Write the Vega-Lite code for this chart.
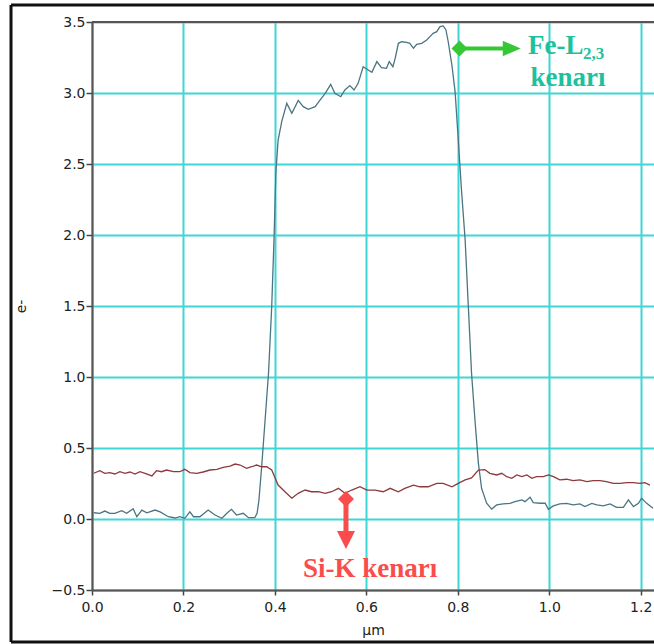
{
  "$schema": "https://vega.github.io/schema/vega-lite/v6.json",
  "width": 562,
  "height": 568,
  "autosize": "none",
  "padding": {"left": 92, "top": 22, "right": 0, "bottom": 54},
  "background": "white",
  "config": {
    "view": {"stroke": null},
    "axis": {
      "labelFont": "DejaVu Sans",
      "labelFontSize": 14,
      "labelColor": "#222222",
      "titleFont": "DejaVu Sans",
      "titleFontSize": 14,
      "titleFontWeight": "normal",
      "titleColor": "#222222",
      "gridColor": "#3fd6d6",
      "gridWidth": 2,
      "gridOpacity": 1,
      "domainColor": "#555555",
      "domainWidth": 2,
      "tickColor": "#444444",
      "tickWidth": 1.5,
      "labelFlush": false,
      "labelOverlap": false,
      "labelBound": false
    }
  },
  "datasets": {
    "one": [{}],
    "fe": [
      {"x": 0.004, "y": 0.044}, {"x": 0.017, "y": 0.040}, {"x": 0.028, "y": 0.056}, {"x": 0.039, "y": 0.040},
      {"x": 0.050, "y": 0.040}, {"x": 0.065, "y": 0.058}, {"x": 0.076, "y": 0.040}, {"x": 0.090, "y": 0.072},
      {"x": 0.098, "y": 0.016}, {"x": 0.109, "y": 0.063}, {"x": 0.120, "y": 0.044}, {"x": 0.138, "y": 0.063},
      {"x": 0.149, "y": 0.050}, {"x": 0.167, "y": 0.016}, {"x": 0.182, "y": 0.007}, {"x": 0.192, "y": 0.016},
      {"x": 0.203, "y": 0.005}, {"x": 0.214, "y": 0.050}, {"x": 0.222, "y": 0.016}, {"x": 0.236, "y": 0.016},
      {"x": 0.254, "y": 0.063}, {"x": 0.269, "y": 0.028}, {"x": 0.284, "y": 0.005}, {"x": 0.295, "y": 0.040},
      {"x": 0.305, "y": 0.068}, {"x": 0.316, "y": 0.028}, {"x": 0.331, "y": 0.040}, {"x": 0.342, "y": 0.009},
      {"x": 0.356, "y": 0.009}, {"x": 0.361, "y": 0.040}, {"x": 0.365, "y": 0.130}, {"x": 0.371, "y": 0.368},
      {"x": 0.378, "y": 0.674}, {"x": 0.386, "y": 1.026}, {"x": 0.393, "y": 1.495}, {"x": 0.398, "y": 1.965},
      {"x": 0.402, "y": 2.434}, {"x": 0.407, "y": 2.669}, {"x": 0.415, "y": 2.800}, {"x": 0.426, "y": 2.927},
      {"x": 0.437, "y": 2.857}, {"x": 0.451, "y": 2.948}, {"x": 0.462, "y": 2.904}, {"x": 0.473, "y": 2.885},
      {"x": 0.488, "y": 2.904}, {"x": 0.499, "y": 2.951}, {"x": 0.510, "y": 2.998}, {"x": 0.522, "y": 3.061},
      {"x": 0.531, "y": 2.998}, {"x": 0.544, "y": 2.974}, {"x": 0.553, "y": 3.021}, {"x": 0.564, "y": 3.052},
      {"x": 0.573, "y": 3.021}, {"x": 0.582, "y": 3.068}, {"x": 0.593, "y": 3.185}, {"x": 0.604, "y": 3.162},
      {"x": 0.612, "y": 3.146}, {"x": 0.623, "y": 3.221}, {"x": 0.633, "y": 3.178}, {"x": 0.644, "y": 3.174},
      {"x": 0.650, "y": 3.221}, {"x": 0.658, "y": 3.185}, {"x": 0.663, "y": 3.244}, {"x": 0.670, "y": 3.350},
      {"x": 0.677, "y": 3.361}, {"x": 0.688, "y": 3.357}, {"x": 0.695, "y": 3.350}, {"x": 0.703, "y": 3.315},
      {"x": 0.710, "y": 3.343}, {"x": 0.721, "y": 3.350}, {"x": 0.732, "y": 3.373}, {"x": 0.739, "y": 3.397},
      {"x": 0.746, "y": 3.420}, {"x": 0.754, "y": 3.432}, {"x": 0.761, "y": 3.467}, {"x": 0.768, "y": 3.472},
      {"x": 0.774, "y": 3.444}, {"x": 0.779, "y": 3.361}, {"x": 0.787, "y": 3.197}, {"x": 0.794, "y": 3.010},
      {"x": 0.801, "y": 2.669}, {"x": 0.808, "y": 2.317}, {"x": 0.816, "y": 1.965}, {"x": 0.823, "y": 1.495},
      {"x": 0.830, "y": 1.026}, {"x": 0.838, "y": 0.674}, {"x": 0.845, "y": 0.392}, {"x": 0.852, "y": 0.215},
      {"x": 0.863, "y": 0.111}, {"x": 0.874, "y": 0.070}, {"x": 0.885, "y": 0.099}, {"x": 0.899, "y": 0.106},
      {"x": 0.914, "y": 0.110}, {"x": 0.925, "y": 0.122}, {"x": 0.940, "y": 0.134}, {"x": 0.947, "y": 0.122},
      {"x": 0.958, "y": 0.153}, {"x": 0.965, "y": 0.115}, {"x": 0.980, "y": 0.111}, {"x": 0.991, "y": 0.111},
      {"x": 0.998, "y": 0.068}, {"x": 1.009, "y": 0.092}, {"x": 1.023, "y": 0.106}, {"x": 1.038, "y": 0.110},
      {"x": 1.052, "y": 0.099}, {"x": 1.067, "y": 0.106}, {"x": 1.078, "y": 0.087}, {"x": 1.093, "y": 0.110},
      {"x": 1.104, "y": 0.099}, {"x": 1.118, "y": 0.092}, {"x": 1.133, "y": 0.106}, {"x": 1.147, "y": 0.082},
      {"x": 1.162, "y": 0.082}, {"x": 1.173, "y": 0.134}, {"x": 1.184, "y": 0.087}, {"x": 1.195, "y": 0.110},
      {"x": 1.202, "y": 0.146}, {"x": 1.213, "y": 0.110}, {"x": 1.227, "y": 0.075}
    ],
    "si": [
      {"x": 0.004, "y": 0.322}, {"x": 0.017, "y": 0.340}, {"x": 0.028, "y": 0.322}, {"x": 0.039, "y": 0.327},
      {"x": 0.050, "y": 0.317}, {"x": 0.061, "y": 0.333}, {"x": 0.072, "y": 0.322}, {"x": 0.083, "y": 0.331},
      {"x": 0.094, "y": 0.317}, {"x": 0.105, "y": 0.333}, {"x": 0.116, "y": 0.322}, {"x": 0.131, "y": 0.303},
      {"x": 0.141, "y": 0.340}, {"x": 0.152, "y": 0.333}, {"x": 0.163, "y": 0.345}, {"x": 0.178, "y": 0.333},
      {"x": 0.192, "y": 0.333}, {"x": 0.203, "y": 0.350}, {"x": 0.214, "y": 0.327}, {"x": 0.229, "y": 0.322},
      {"x": 0.243, "y": 0.331}, {"x": 0.258, "y": 0.345}, {"x": 0.273, "y": 0.350}, {"x": 0.287, "y": 0.364},
      {"x": 0.302, "y": 0.373}, {"x": 0.313, "y": 0.387}, {"x": 0.324, "y": 0.380}, {"x": 0.338, "y": 0.357},
      {"x": 0.349, "y": 0.368}, {"x": 0.360, "y": 0.380}, {"x": 0.371, "y": 0.368}, {"x": 0.382, "y": 0.368},
      {"x": 0.393, "y": 0.345}, {"x": 0.407, "y": 0.239}, {"x": 0.422, "y": 0.192}, {"x": 0.437, "y": 0.146},
      {"x": 0.451, "y": 0.181}, {"x": 0.466, "y": 0.204}, {"x": 0.480, "y": 0.192}, {"x": 0.495, "y": 0.192},
      {"x": 0.510, "y": 0.181}, {"x": 0.524, "y": 0.192}, {"x": 0.539, "y": 0.216}, {"x": 0.553, "y": 0.181},
      {"x": 0.568, "y": 0.204}, {"x": 0.586, "y": 0.227}, {"x": 0.601, "y": 0.204}, {"x": 0.619, "y": 0.204},
      {"x": 0.637, "y": 0.192}, {"x": 0.652, "y": 0.216}, {"x": 0.670, "y": 0.192}, {"x": 0.684, "y": 0.216},
      {"x": 0.703, "y": 0.239}, {"x": 0.717, "y": 0.227}, {"x": 0.735, "y": 0.227}, {"x": 0.754, "y": 0.251},
      {"x": 0.768, "y": 0.251}, {"x": 0.787, "y": 0.227}, {"x": 0.801, "y": 0.251}, {"x": 0.816, "y": 0.275},
      {"x": 0.830, "y": 0.290}, {"x": 0.845, "y": 0.345}, {"x": 0.859, "y": 0.348}, {"x": 0.870, "y": 0.322},
      {"x": 0.885, "y": 0.310}, {"x": 0.896, "y": 0.322}, {"x": 0.907, "y": 0.298}, {"x": 0.918, "y": 0.287},
      {"x": 0.929, "y": 0.310}, {"x": 0.940, "y": 0.298}, {"x": 0.951, "y": 0.310}, {"x": 0.962, "y": 0.287},
      {"x": 0.972, "y": 0.298}, {"x": 0.987, "y": 0.298}, {"x": 0.998, "y": 0.310}, {"x": 1.009, "y": 0.298},
      {"x": 1.023, "y": 0.275}, {"x": 1.038, "y": 0.280}, {"x": 1.052, "y": 0.270}, {"x": 1.067, "y": 0.275},
      {"x": 1.082, "y": 0.263}, {"x": 1.096, "y": 0.270}, {"x": 1.111, "y": 0.270}, {"x": 1.125, "y": 0.263},
      {"x": 1.140, "y": 0.251}, {"x": 1.155, "y": 0.251}, {"x": 1.169, "y": 0.256}, {"x": 1.184, "y": 0.256},
      {"x": 1.198, "y": 0.251}, {"x": 1.209, "y": 0.256}, {"x": 1.220, "y": 0.239}
    ]
  },
  "layer": [
    {
      "data": {"name": "fe"},
      "mark": {"type": "line", "color": "#4a7582", "strokeWidth": 1.3, "clip": true},
      "encoding": {
        "x": {
          "field": "x", "type": "quantitative",
          "scale": {"domain": [0, 1.229], "nice": false, "zero": false},
          "axis": {
            "values": [0, 0.2, 0.4, 0.6, 0.8, 1.0, 1.2],
            "format": ".1f",
            "title": "µm",
            "tickSize": 5,
            "labelPadding": 5,
            "titlePadding": 9
          }
        },
        "y": {
          "field": "y", "type": "quantitative",
          "scale": {"domain": [-0.5, 3.5], "nice": false, "zero": false},
          "axis": {
            "values": [-0.5, 0, 0.5, 1, 1.5, 2, 2.5, 3, 3.5],
            "format": ".1f",
            "title": "e-",
            "tickSize": 6,
            "labelPadding": 1,
            "titlePadding": 23
          }
        }
      }
    },
    {
      "data": {"name": "si"},
      "mark": {"type": "line", "color": "#8c3a3c", "strokeWidth": 1.3, "clip": true},
      "encoding": {
        "x": {"field": "x", "type": "quantitative"},
        "y": {"field": "y", "type": "quantitative"}
      }
    },
    {
      "data": {"name": "one"},
      "mark": {"type": "rule", "color": "#555555", "strokeWidth": 2},
      "encoding": {"y": {"datum": 3.5}}
    },
    {
      "data": {"name": "one"},
      "mark": {"type": "rule", "color": "#111111", "strokeWidth": 3},
      "encoding": {"x": {"datum": -0.1771}, "y": {"datum": 3.6197}, "y2": {"datum": -0.8662}}
    },
    {
      "data": {"name": "one"},
      "mark": {"type": "rule", "color": "#111111", "strokeWidth": 3},
      "encoding": {"x": {"datum": -0.1771}, "x2": {"datum": 1.4}, "y": {"datum": 3.6197}}
    },
    {
      "data": {"name": "one"},
      "mark": {"type": "rule", "color": "#111111", "strokeWidth": 3},
      "encoding": {"x": {"datum": -0.1771}, "x2": {"datum": 1.4}, "y": {"datum": -0.8662}}
    },
    {
      "data": {"name": "one"},
      "mark": {"type": "rule", "color": "#36c736", "strokeWidth": 4},
      "encoding": {"x": {"datum": 0.8036}, "x2": {"datum": 0.899}, "y": {"datum": 3.3134}}
    },
    {
      "data": {"name": "one"},
      "mark": {"type": "point", "shape": "diamond", "size": 256, "filled": true, "color": "#36c736", "opacity": 1},
      "encoding": {"x": {"datum": 0.8036}, "y": {"datum": 3.3134}}
    },
    {
      "data": {"name": "one"},
      "mark": {"type": "point", "shape": "M-1,-0.85L1,0L-1,0.85Z", "size": 324, "filled": true, "color": "#36c736", "opacity": 1},
      "encoding": {"x": {"datum": 0.918}, "y": {"datum": 3.3134}}
    },
    {
      "data": {"name": "one"},
      "mark": {"type": "rule", "color": "#fa4c4c", "strokeWidth": 5},
      "encoding": {"x": {"datum": 0.5554}, "y": {"datum": 0.1408}, "y2": {"datum": -0.0845}}
    },
    {
      "data": {"name": "one"},
      "mark": {"type": "point", "shape": "diamond", "size": 256, "filled": true, "color": "#fa4c4c", "opacity": 1},
      "encoding": {"x": {"datum": 0.5554}, "y": {"datum": 0.1408}}
    },
    {
      "data": {"name": "one"},
      "mark": {"type": "point", "shape": "M-1,-1L1,-1L0,1Z", "size": 324, "filled": true, "color": "#fa4c4c", "opacity": 1},
      "encoding": {"x": {"datum": 0.5554}, "y": {"datum": -0.148}}
    },
    {
      "data": {"name": "one"},
      "mark": {"type": "text", "font": "Liberation Serif", "fontWeight": "bold", "fontSize": 27, "color": "#1dc29c", "align": "left", "baseline": "alphabetic"},
      "encoding": {"x": {"datum": 0.9534}, "y": {"datum": 3.2746}, "text": {"value": "Fe-L"}}
    },
    {
      "data": {"name": "one"},
      "mark": {"type": "text", "font": "Liberation Serif", "fontWeight": "bold", "fontSize": 17, "color": "#1dc29c", "align": "left", "baseline": "alphabetic"},
      "encoding": {"x": {"datum": 1.0737}, "y": {"datum": 3.2394}, "text": {"value": "2,3"}}
    },
    {
      "data": {"name": "one"},
      "mark": {"type": "text", "font": "Liberation Serif", "fontWeight": "bold", "fontSize": 27, "color": "#1dc29c", "align": "left", "baseline": "alphabetic"},
      "encoding": {"x": {"datum": 0.9589}, "y": {"datum": 3.049}, "text": {"value": "kenarı"}}
    },
    {
      "data": {"name": "one"},
      "mark": {"type": "text", "font": "Liberation Serif", "fontWeight": "bold", "fontSize": 27, "color": "#fa4c4c", "align": "left", "baseline": "alphabetic"},
      "encoding": {"x": {"datum": 0.4614}, "y": {"datum": -0.4085}, "text": {"value": "Si-K kenarı"}}
    }
  ]
}
